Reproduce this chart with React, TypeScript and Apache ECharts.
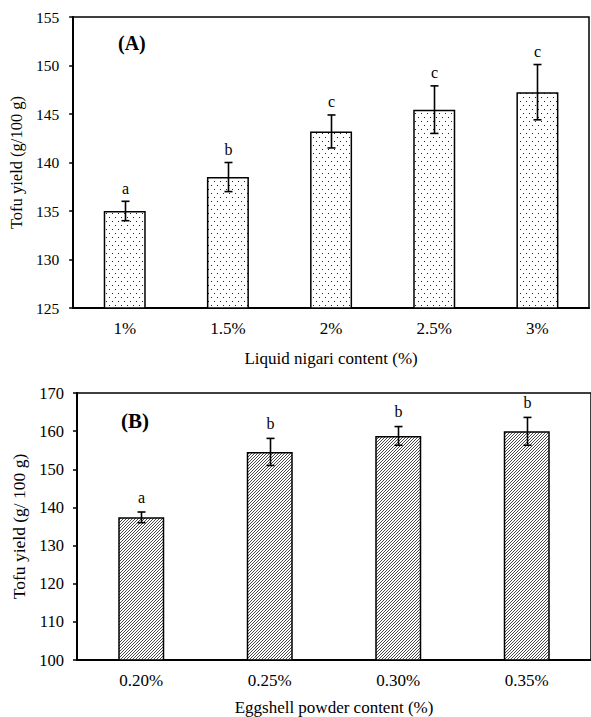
import React, { useEffect, useRef } from "react";
import * as echarts from "echarts";

const catsA = ["1%", "1.5%", "2%", "2.5%", "3%"];
const valsA = [135.0, 138.5, 143.2, 145.45, 147.25];
const errA = [1.0, 1.5, 1.7, 2.45, 2.85];
const lettersA = ["a", "b", "c", "c", "c"];
const yTicksA = { min: 125, max: 155, interval: 5 };

const catsB = ["0.20%", "0.25%", "0.30%", "0.35%"];
const valsB = [137.4, 154.55, 158.75, 159.95];
const errB = [1.4, 3.55, 2.45, 3.65];
const lettersB = ["a", "b", "b", "b"];
const yTicksB = { min: 100, max: 170, interval: 10 };

const FONT = "'Liberation Serif', 'Times New Roman', serif";

function makeDots() {
  const c = document.createElement("canvas");
  c.width = 6;
  c.height = 8;
  const ctx = c.getContext("2d")!;
  ctx.fillStyle = "#fff";
  ctx.fillRect(0, 0, 6, 8);
  ctx.fillStyle = "#222";
  ctx.fillRect(1, 1, 1, 1);
  ctx.fillRect(4, 5, 1, 1);
  return c;
}

function makeHatch() {
  const c = document.createElement("canvas");
  c.width = 3;
  c.height = 3;
  const ctx = c.getContext("2d")!;
  ctx.fillStyle = "#fff";
  ctx.fillRect(0, 0, 3, 3);
  ctx.fillStyle = "#4a4a4a";
  ctx.fillRect(2, 0, 1, 1);
  ctx.fillRect(1, 1, 1, 1);
  ctx.fillRect(0, 2, 1, 1);
  return c;
}

function errSeries(vals: number[], errs: number[], letters: string[], idx: number, gap: number) {
  return {
    type: "custom",
    xAxisIndex: idx,
    yAxisIndex: idx,
    z: 5,
    data: vals.map((v, i) => [i, v, errs[i]]),
    renderItem: (params: any, api: any) => {
      const i = api.value(0);
      const v = api.value(1);
      const e = api.value(2);
      const top = api.coord([i, v + e]);
      const bot = api.coord([i, v - e]);
      const x = Math.round(top[0]) + 0.5;
      const cap = 4;
      const st = { stroke: "#000", lineWidth: 1.6 };
      return {
        type: "group",
        children: [
          { type: "line", shape: { x1: x, y1: top[1], x2: x, y2: bot[1] }, style: st },
          { type: "line", shape: { x1: x - cap, y1: top[1], x2: x + cap, y2: top[1] }, style: st },
          { type: "line", shape: { x1: x - cap, y1: bot[1], x2: x + cap, y2: bot[1] }, style: st },
          {
            type: "text",
            style: {
              text: letters[i],
              x: x,
              y: top[1] - gap,
              align: "center",
              verticalAlign: "bottom",
              fontFamily: FONT,
              fontSize: 16,
              fill: "#000",
            },
          },
        ],
      };
    },
  };
}

export default function App() {
  const ref = useRef<HTMLDivElement>(null);
  useEffect(() => {
    const chart = echarts.init(ref.current!, null, { renderer: "svg" });
    const dots = makeDots();
    const hatch = makeHatch();
    const axisLine = { show: true, lineStyle: { color: "#000", width: 2 } };
    const option: any = {
      animation: false,
      backgroundColor: "#fff",
      textStyle: { fontFamily: FONT },
      grid: [
        { left: 72, top: 17, width: 517, height: 291, show: true, borderColor: "#000", borderWidth: 1.5 },
        { left: 77, top: 393, width: 527, height: 273, show: true, borderColor: "#000", borderWidth: 1.5 },
      ],
      xAxis: [
        {
          type: "category",
          gridIndex: 0,
          data: catsA,
          axisLine,
          axisTick: { show: false },
          axisLabel: { color: "#000", fontSize: 17, fontFamily: FONT, margin: 12 },
          name: "Liquid nigari content (%)",
          nameLocation: "middle",
          nameGap: 42,
          nameTextStyle: { color: "#000", fontSize: 17, fontFamily: FONT },
        },
        {
          type: "category",
          gridIndex: 1,
          data: catsB,
          axisLine,
          axisTick: { show: false },
          axisLabel: { color: "#000", fontSize: 17, fontFamily: FONT, margin: 12 },
          name: "Eggshell powder content (%)",
          nameLocation: "middle",
          nameGap: 39,
          nameTextStyle: { color: "#000", fontSize: 17, fontFamily: FONT },
        },
      ],
      yAxis: [
        {
          type: "value",
          gridIndex: 0,
          min: yTicksA.min,
          max: yTicksA.max,
          interval: yTicksA.interval,
          axisLine,
          axisTick: { show: true, inside: false, length: 4, lineStyle: { color: "#000", width: 1.5 } },
          splitLine: { show: false },
          axisLabel: { color: "#000", fontSize: 15.5, fontFamily: FONT, margin: 14 },
          name: "Tofu yield (g/100 g)",
          nameLocation: "middle",
          nameGap: 37,
          nameTextStyle: { color: "#000", fontSize: 16.5, fontFamily: FONT },
        },
        {
          type: "value",
          gridIndex: 1,
          min: yTicksB.min,
          max: yTicksB.max,
          interval: yTicksB.interval,
          axisLine,
          axisTick: { show: true, inside: false, length: 4, lineStyle: { color: "#000", width: 1.5 } },
          splitLine: { show: false },
          axisLabel: { color: "#000", fontSize: 16.5, fontFamily: FONT, margin: 13 },
          name: "Tofu yield (g/ 100 g)",
          nameLocation: "middle",
          nameGap: 40,
          nameTextStyle: { color: "#000", fontSize: 17.5, fontFamily: FONT },
        },
      ],
      graphic: [
        {
          type: "text",
          x: 118,
          y: 43,
          style: { text: "(A)", fontFamily: FONT, fontWeight: "bold", fontSize: 20, fill: "#000", verticalAlign: "middle" },
        },
        {
          type: "text",
          x: 121,
          y: 421,
          style: { text: "(B)", fontFamily: FONT, fontWeight: "bold", fontSize: 21, fill: "#000", verticalAlign: "middle" },
        },
      ],
      series: [
        {
          type: "bar",
          xAxisIndex: 0,
          yAxisIndex: 0,
          data: valsA,
          barWidth: 42,
          itemStyle: {
            color: { image: dots, repeat: "repeat", imageWidth: 6, imageHeight: 8 },
            borderColor: "#000",
            borderWidth: 1.5,
          },
        },
        errSeries(valsA, errA, lettersA, 0, 5),
        {
          type: "bar",
          xAxisIndex: 1,
          yAxisIndex: 1,
          data: valsB,
          barWidth: 46,
          itemStyle: {
            color: { image: hatch, repeat: "repeat", imageWidth: 3, imageHeight: 3 },
            borderColor: "#000",
            borderWidth: 1.5,
          },
        },
        errSeries(valsB, errB, lettersB, 1, 7),
      ],
    };
    chart.setOption(option);
    return () => chart.dispose();
  }, []);
  return (
    <div
      ref={ref}
      style={{ position: "fixed", left: 0, top: 0, width: 591, height: 717, background: "#fff" }}
    />
  );
}
